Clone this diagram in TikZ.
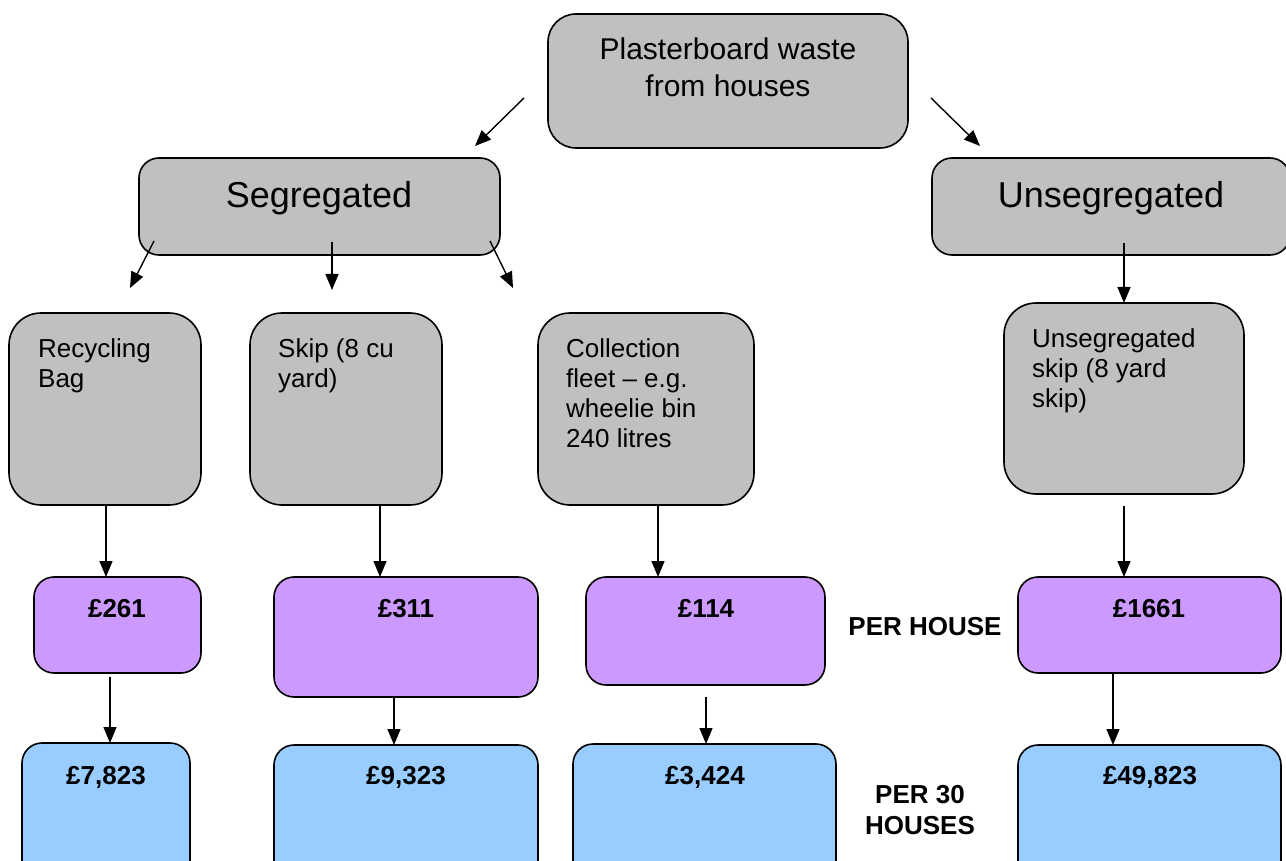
\documentclass[tikz,border=0pt]{standalone}
\usepackage{fontspec}
\setmainfont{Liberation Sans}
\usetikzlibrary{arrows.meta}
\definecolor{boxgray}{HTML}{C0C0C0}
\definecolor{boxpurple}{HTML}{CC99FF}
\definecolor{boxblue}{HTML}{99CCFF}
\begin{document}
\begin{tikzpicture}[x=1pt,y=-1pt,
  box/.style={draw=black, line width=1.6pt, rectangle, anchor=north west, inner sep=0pt, outer sep=0pt},
  graybox/.style={box, fill=boxgray},
  purplebox/.style={box, fill=boxpurple, rounded corners=20pt},
  bluebox/.style={box, fill=boxblue, rounded corners=20pt, minimum height=160pt},
  bigtxt/.style={inner sep=0pt, font=\fontsize{36}{42}\selectfont, anchor=base},
  toptxt/.style={inner sep=0pt, font=\fontsize{30}{37}\selectfont, anchor=base, align=center},
  smalltxt/.style={inner sep=0pt, font=\fontsize{26}{30}\selectfont, anchor=base west, align=left},
  costtxt/.style={inner sep=0pt, font=\bfseries\fontsize{26}{31}\selectfont, anchor=base, align=center},
  arr/.style={draw=black, line width=1.4pt, -{Triangle[length=16pt,width=13pt]}}
]
\clip (0,0) rectangle (1286,861);
\fill[white] (0,0) rectangle (1286,861);

% top
\node[graybox, rounded corners=28pt, minimum width=360pt, minimum height=134pt] (top) at (548,14) {};
\node[toptxt] (toptext) at (728,97) {Plasterboard waste\\from houses};

% second level
\node[graybox, rounded corners=20pt, minimum width=361pt, minimum height=97pt] (seg) at (139,158) {};
\node[bigtxt] (segtext) at (319,208) {Segregated};
\node[graybox, rounded corners=20pt, minimum width=358pt, minimum height=97pt] (useg) at (932,158) {};
\node[bigtxt] (usegtext) at (1111,208) {Unsegregated};

% third level
\node[graybox, rounded corners=32pt, minimum width=192pt, minimum height=192pt] (rec) at (9,313) {};
\node[smalltxt] (rectext) at (38,387) {Recycling\\Bag};
\node[graybox, rounded corners=32pt, minimum width=192pt, minimum height=192pt] (skip) at (250,313) {};
\node[smalltxt] (skiptext) at (278,387) {Skip (8 cu\\yard)};
\node[graybox, rounded corners=32pt, minimum width=216pt, minimum height=192pt] (coll) at (538,313) {};
\node[smalltxt] (colltext) at (566,447) {Collection\\fleet – e.g.\\wheelie bin\\240 litres};
\node[graybox, rounded corners=32pt, minimum width=240pt, minimum height=191pt] (uskip) at (1004,303) {};
\node[smalltxt] (uskiptext) at (1032,407) {Unsegregated\\skip (8 yard\\skip)};

% per house
\node[purplebox, minimum width=167pt, minimum height=96pt] (p1) at (34,577) {};
\node[costtxt] (p1text) at (117,617) {£261};
\node[purplebox, minimum width=264pt, minimum height=120pt] (p2) at (274,577) {};
\node[costtxt] (p2text) at (406,617) {£311};
\node[purplebox, minimum width=239pt, minimum height=108pt] (p3) at (586,577) {};
\node[costtxt] (p3text) at (706,617) {£114};
\node[purplebox, minimum width=263pt, minimum height=96pt] (p4) at (1018,577) {};
\node[costtxt] (p4text) at (1149,617) {£1661};
\node[costtxt] (perhouse) at (925,635) {PER HOUSE};

% per 30 houses
\node[bluebox, minimum width=168pt] (b1) at (22,743) {};
\node[costtxt] (b1text) at (106,784) {£7,823};
\node[bluebox, minimum width=264pt] (b2) at (274,745) {};
\node[costtxt] (b2text) at (406,784) {£9,323};
\node[bluebox, minimum width=263pt] (b3) at (573,744) {};
\node[costtxt] (b3text) at (705,784) {£3,424};
\node[bluebox, minimum width=263pt] (b4) at (1018,745) {};
\node[costtxt] (b4text) at (1150,784) {£49,823};
\node[costtxt] (per30) at (920,834) {PER 30\\HOUSES};

% arrow coordinates
\coordinate (a1s) at (524,98);  \coordinate (a1e) at (475,146);
\coordinate (a2s) at (931,98);  \coordinate (a2e) at (980,146);
\coordinate (a3s) at (154,241); \coordinate (a3e) at (130,288);
\coordinate (a4s) at (332,242); \coordinate (a4e) at (332,290);
\coordinate (a5s) at (490,241); \coordinate (a5e) at (513,288);
\coordinate (a6s) at (1124,243);
\coordinate (a7s) at (106,505);
\coordinate (a8s) at (380,505);
\coordinate (a9s) at (658,505);
\coordinate (a10s) at (1124,506);
\coordinate (a11s) at (110,677);
\coordinate (a12s) at (394,697);
\coordinate (a13s) at (706,697);
\coordinate (a14s) at (1113,673);

\draw[arr] (a1s) -- (a1e);
\draw[arr] (a2s) -- (a2e);
\draw[arr] (a3s) -- (a3e);
\draw[arr] (a4s) -- (a4e);
\draw[arr] (a5s) -- (a5e);
\draw[arr] (a6s) -- (a6s |- uskip.north);
\draw[arr] (a7s) -- (a7s |- p1.north);
\draw[arr] (a8s) -- (a8s |- p2.north);
\draw[arr] (a9s) -- (a9s |- p3.north);
\draw[arr] (a10s) -- (a10s |- p4.north);
\draw[arr] (a11s) -- (a11s |- b1.north);
\draw[arr] (a12s) -- (a12s |- b2.north);
\draw[arr] (a13s) -- (a13s |- b3.north);
\draw[arr] (a14s) -- (a14s |- b4.north);
\end{tikzpicture}
\end{document}
